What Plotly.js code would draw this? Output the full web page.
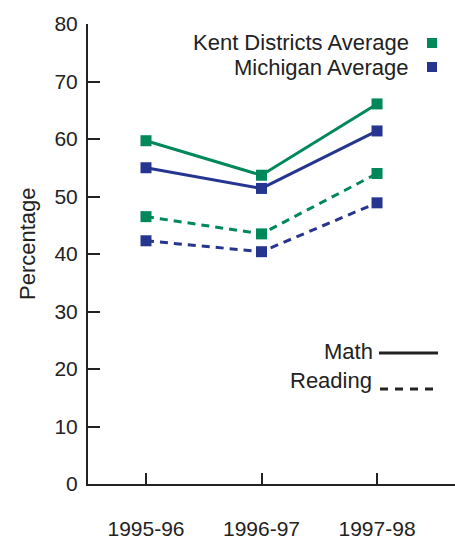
<!DOCTYPE html>
<html>
<head>
<meta charset="utf-8">
<script src="https://cdn.plot.ly/plotly-3.0.1.min.js"></script>
<style>html,body{margin:0;padding:0;background:#fff;}#chart{width:455px;height:540px;}</style>
</head>
<body>
<div id="chart"></div>
<script>
const years = ["1995-96", "1996-97", "1997-98"];
const kentMath = [59.7, 53.7, 66.1];
const michMath = [55.0, 51.4, 61.4];
const kentReading = [46.5, 43.5, 54.0];
const michReading = [42.3, 40.4, 48.9];
const yTicks = [0, 10, 20, 30, 40, 50, 60, 70, 80];

const GREEN = "#00875a";
const BLUE = "#26358f";
const FONT = "Liberation Sans, Arial, sans-serif";
const FS = 21;
const LFS = 22;
const TXT = "#222";

function tr(y, color, dash) {
  return {
    x: years, y: y, type: "scatter", mode: "lines+markers",
    line: {color: color, width: 3, dash: dash},
    marker: {symbol: "square", size: 11, color: color},
    cliponaxis: false, showlegend: false, hoverinfo: "skip"
  };
}

const data = [
  tr(kentReading, GREEN, "8px,6px"),
  tr(michReading, BLUE, "8px,6px"),
  tr(michMath, BLUE, "solid"),
  tr(kentMath, GREEN, "solid")
];

// pixel helpers for paper coordinates (plot area 88..455 x 24..484)
const px = v => (v - 88) / 367;
const py = v => (484 - v) / 460;

const layout = {
  width: 455, height: 540,
  margin: {l: 88, r: 0, t: 24, b: 56},
  paper_bgcolor: "#fff", plot_bgcolor: "#fff",
  font: {family: FONT, size: FS, color: TXT},
  showlegend: false,
  xaxis: {
    type: "category", range: [-0.502, 2.675],
    showline: true, linecolor: TXT, linewidth: 2,
    ticks: "inside", ticklen: 11, tickwidth: 2, tickcolor: TXT,
    showgrid: false, zeroline: false,
    ticklabelstandoff: 25,
    tickfont: {family: FONT, size: FS, color: TXT}
  },
  yaxis: {
    range: [0, 80], tickvals: yTicks, ticktext: yTicks.map(String),
    showline: true, linecolor: TXT, linewidth: 2,
    ticks: "inside", ticklen: 12, tickwidth: 2, tickcolor: TXT,
    showgrid: false, zeroline: false,
    ticklabelstandoff: 4,
    tickfont: {family: FONT, size: FS, color: TXT}
  },
  annotations: [
    {xref: "paper", yref: "paper", x: px(27), y: py(243), text: "Percentage", textangle: -90,
     showarrow: false, xanchor: "center", yanchor: "middle", font: {family: FONT, size: LFS, color: TXT}},
    {xref: "paper", yref: "paper", x: px(411), y: py(43), text: "Kent Districts Average",
     showarrow: false, xanchor: "right", yanchor: "middle", font: {family: FONT, size: LFS, color: TXT}},
    {xref: "paper", yref: "paper", x: px(411), y: py(67), text: "Michigan Average",
     showarrow: false, xanchor: "right", yanchor: "middle", font: {family: FONT, size: LFS, color: TXT}},
    {xref: "paper", yref: "paper", x: px(375), y: py(351), text: "Math",
     showarrow: false, xanchor: "right", yanchor: "middle", font: {family: FONT, size: LFS, color: TXT}},
    {xref: "paper", yref: "paper", x: px(374), y: py(380), text: "Reading",
     showarrow: false, xanchor: "right", yanchor: "middle", font: {family: FONT, size: LFS, color: TXT}}
  ],
  shapes: [
    {type: "rect", xref: "paper", yref: "paper", x0: px(427), x1: px(437), y0: py(48), y1: py(38),
     fillcolor: GREEN, line: {width: 0}},
    {type: "rect", xref: "paper", yref: "paper", x0: px(427), x1: px(437), y0: py(72), y1: py(62),
     fillcolor: BLUE, line: {width: 0}},
    {type: "line", xref: "paper", yref: "paper", x0: px(379), x1: px(438), y0: py(353), y1: py(353),
     line: {color: TXT, width: 3}},
    {type: "line", xref: "paper", yref: "paper", x0: px(380), x1: px(438), y0: py(389), y1: py(389),
     line: {color: TXT, width: 3, dash: "8px,7px"}}
  ]
};

Plotly.newPlot("chart", data, layout, {staticPlot: true, displayModeBar: false});
</script>
</body>
</html>
